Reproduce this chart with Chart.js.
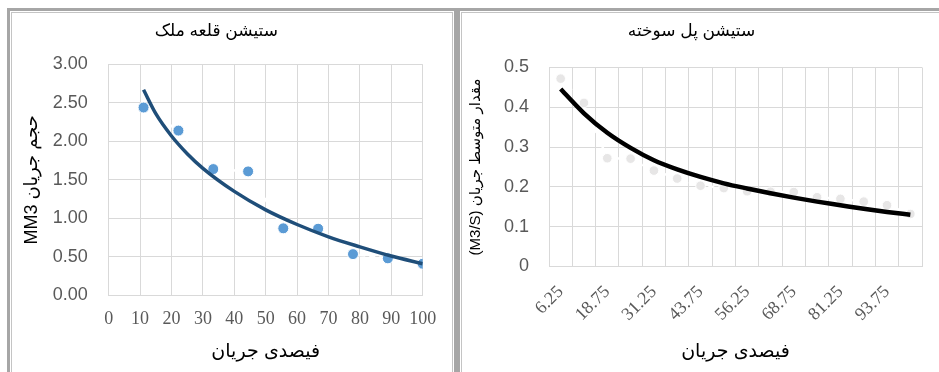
<!DOCTYPE html>
<html>
<head>
<meta charset="utf-8">
<script src="https://cdn.jsdelivr.net/npm/chart.js@4.4.1/dist/chart.umd.min.js"></script>
<style>
  body { margin: 0; background: #fff; overflow: hidden; width: 939px; height: 372px; position: relative; }
  .box { position: absolute; border: 3px solid #a6a6a6; box-shadow: inset 0 0 0 1px #fff, inset 0 0 0 2px #c4c4c4; }
  #box1 { left: 7px; top: 8px; width: 444px; height: 420px; }
  #box2 { left: 457px; top: 8px; width: 560px; height: 420px; }
  canvas { position: absolute; }
  #left { left: 10px; top: 11px; }
  #right { left: 461px; top: 11px; }
</style>
</head>
<body>
<div class="box" id="box1"></div>
<div class="box" id="box2"></div>
<canvas id="left" width="444" height="361"></canvas>
<canvas id="right" width="511" height="361"></canvas>
<script>
// Left chart: ستیشن قلعه ملک
const leftX = [11.1, 22.2, 33.3, 44.4, 55.6, 66.7, 77.8, 88.9, 100];
const leftY = [2.44, 2.14, 1.64, 1.61, 0.87, 0.865, 0.535, 0.48, 0.41];
const leftTrendX = [11.1, 15, 20, 25, 30, 40, 50, 60, 70, 80, 90, 100];
const leftTrendY = [2.67, 2.36, 2.07, 1.84, 1.65, 1.35, 1.11, 0.92, 0.76, 0.63, 0.51, 0.41];

// Right chart: ستیشن پل سوخته
const rightLabels = ['6.25', '12.5', '18.75', '25', '31.25', '37.5', '43.75', '50',
  '56.25', '62.5', '68.75', '75', '81.25', '87.5', '93.75', '100'];
const rightY = [0.472, 0.411, 0.272, 0.271, 0.241, 0.221, 0.203, 0.197,
  0.189, 0.188, 0.187, 0.174, 0.170, 0.163, 0.154, 0.132];
const rightTrend = [0.446, 0.385, 0.336, 0.298, 0.267, 0.244, 0.225, 0.209,
  0.196, 0.184, 0.173, 0.163, 0.154, 0.145, 0.137, 0.130];

const sans = "'Liberation Sans', 'DejaVu Sans', sans-serif";
const serif = "'Liberation Serif', 'DejaVu Sans', serif";
const gridColor = '#d9d9d9';

new Chart(document.getElementById('left').getContext('2d'), {
  type: 'scatter',
  data: {
    datasets: [
      {
        data: leftTrendX.map((x, i) => ({ x, y: leftTrendY[i] })),
        showLine: true,
        borderColor: '#1f4e79',
        borderWidth: 3.5,
        pointRadius: 0,
        cubicInterpolationMode: 'monotone',
        order: 0,
      },
      {
        data: leftX.map((x, i) => ({ x, y: leftY[i] })),
        showLine: true,
        borderColor: '#ffffff',
        borderWidth: 2.5,
        borderDash: [6, 4],
        backgroundColor: '#5b9bd5',
        pointBackgroundColor: '#5b9bd5',
        pointBorderColor: '#ffffff',
        pointBorderWidth: 1,
        pointRadius: 5.5,
        order: 1,
      },
    ],
  },
  options: {
    responsive: false,
    animation: false,
    events: [],
    layout: { padding: { left: 0, right: 31.3, top: 0, bottom: 0 } },
    plugins: {
      legend: { display: false },
      tooltip: { enabled: false },
      title: {
        display: true,
        text: 'ستیشن قلعه ملک',
        color: '#000',
        font: { family: sans, size: 17, weight: 'normal' },
        padding: { top: 10, bottom: 23 },
      },
    },
    scales: {
      x: {
        type: 'linear',
        min: 0,
        max: 100,
        ticks: { stepSize: 10, color: '#595959', font: { family: serif, size: 18 }, padding: 13, maxRotation: 0 },
        grid: { color: gridColor, drawTicks: false },
        border: { color: gridColor },
        title: {
          display: true,
          text: 'فیصدی جریان',
          color: '#000',
          font: { family: sans, size: 19 },
          padding: { top: 0, bottom: 8.5 },
        },
        afterFit: (s) => { s.height = 76.7; },
      },
      y: {
        min: 0,
        max: 3,
        ticks: { stepSize: 0.5, color: '#595959', font: { family: sans, size: 18 }, padding: 21,
          callback: (v) => v.toFixed(2) },
        grid: { color: gridColor, drawTicks: false },
        border: { color: gridColor },
        title: {
          display: true,
          text: 'MM3 حجم جریان',
          color: '#000',
          font: { family: sans, size: 18 },
          padding: { top: 11.5, bottom: 0 },
        },
        afterFit: (s) => { s.width = 98.7; },
      },
    },
  },
});

new Chart(document.getElementById('right').getContext('2d'), {
  type: 'line',
  data: {
    labels: rightLabels,
    datasets: [
      {
        data: rightTrend,
        borderColor: '#000000',
        borderWidth: 4.5,
        pointRadius: 0,
        cubicInterpolationMode: 'monotone',
        order: 0,
      },
      {
        data: rightY,
        borderColor: '#ffffff',
        borderWidth: 2.5,
        borderDash: [6, 4],
        pointBackgroundColor: '#e7e6e6',
        pointBorderColor: '#ffffff',
        pointBorderWidth: 1,
        pointRadius: 4.8,
        order: 1,
      },
    ],
  },
  options: {
    responsive: false,
    animation: false,
    events: [],
    layout: { padding: { left: 0, right: 50, top: 0, bottom: 0 } },
    plugins: {
      legend: { display: false },
      tooltip: { enabled: false },
      title: {
        display: true,
        text: 'ستیشن پل سوخته',
        color: '#000',
        font: { family: sans, size: 17, weight: 'normal' },
        padding: { top: 10.6, bottom: 25.5 },
      },
    },
    scales: {
      x: {
        offset: true,
        ticks: {
          autoSkip: false,
          minRotation: 45,
          maxRotation: 45,
          color: '#595959',
          font: { family: serif, size: 18 },
          padding: 15,
          callback: function (v, i) { return i % 2 === 0 ? this.getLabelForValue(v) : ''; },
        },
        grid: { color: gridColor, drawTicks: false, offset: true },
        border: { color: gridColor },
        title: {
          display: true,
          text: 'فیصدی جریان',
          color: '#000',
          font: { family: sans, size: 19 },
          padding: { top: 0, bottom: 8.5 },
        },
        afterFit: (s) => { s.height = 105.5; },
      },
      y: {
        min: 0,
        max: 0.5,
        ticks: { stepSize: 0.1, color: '#595959', font: { family: sans, size: 18 }, padding: 20 },
        grid: { color: gridColor, drawTicks: false },
        border: { color: gridColor },
        title: {
          display: true,
          text: '(M3/S) مقدار متوسط جریان',
          color: '#000',
          font: { family: sans, size: 15 },
          padding: { top: 6, bottom: 0 },
        },
        afterFit: (s) => { s.width = 88; },
      },
    },
  },
});
</script>
</body>
</html>
